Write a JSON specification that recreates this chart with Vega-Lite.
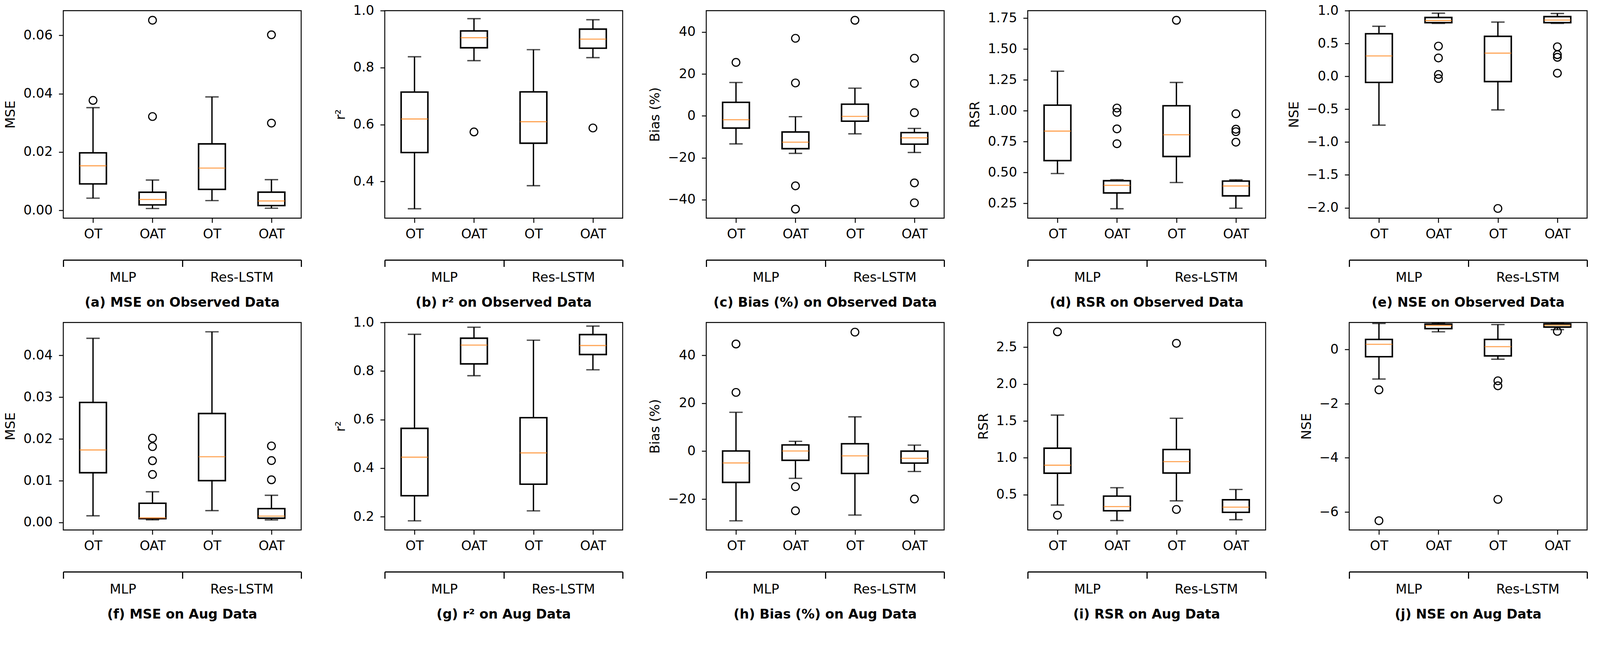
{
"$schema":"https://vega.github.io/schema/vega-lite/v6.json",
"background":"white",
"padding":{"left":9,"top":8.2,"right":5,"bottom":5},
"config":{
 "font":"DejaVu Sans",
 "view":{"stroke":"black","strokeWidth":2.4},
 "axis":{"labelFont":"DejaVu Sans","labelFontSize":33.7,"labelColor":"black","titleFont":"DejaVu Sans","titleFontSize":33.7,"titleFontWeight":"normal","titleColor":"black","tickColor":"black","tickWidth":2.4,"grid":false,"labelOverlap":false,"domainColor":"black"},
 "axisY":{"tickSize":11.6,"labelPadding":16,"titlePadding":14.5,"domain":false},
 "title":{"font":"DejaVu Sans","fontSize":33.7,"fontWeight":"bold","color":"black"}
},
"datasets":{
"stats":[
{"panel":"a","pos":1,"lo":0.00415,"q1":0.00904,"med":0.01526,"q3":0.0197,"hi":0.0352},
{"panel":"a","pos":2,"lo":0.00059,"q1":0.00183,"med":0.0037,"q3":0.00617,"hi":0.01037},
{"panel":"a","pos":3,"lo":0.00331,"q1":0.00716,"med":0.01447,"q3":0.02277,"hi":0.0389},
{"panel":"a","pos":4,"lo":0.0007,"q1":0.0016,"med":0.0032,"q3":0.0062,"hi":0.0105},
{"panel":"b","pos":1,"lo":0.3043,"q1":0.5017,"med":0.6195,"q3":0.714,"hi":0.838},
{"panel":"b","pos":2,"lo":0.8244,"q1":0.8695,"med":0.9049,"q3":0.9287,"hi":0.9717},
{"panel":"b","pos":3,"lo":0.3853,"q1":0.5345,"med":0.6099,"q3":0.7147,"hi":0.8629},
{"panel":"b","pos":4,"lo":0.835,"q1":0.868,"med":0.9,"q3":0.935,"hi":0.968},
{"panel":"c","pos":1,"lo":-13.4,"q1":-5.84,"med":-1.85,"q3":6.45,"hi":15.9},
{"panel":"c","pos":2,"lo":-17.9,"q1":-15.66,"med":-12.57,"q3":-7.69,"hi":-0.41},
{"panel":"c","pos":3,"lo":-8.58,"q1":-2.54,"med":-0.27,"q3":5.56,"hi":13.2},
{"panel":"c","pos":4,"lo":-17.5,"q1":-13.5,"med":-10.5,"q3":-8.0,"hi":-6.0},
{"panel":"d","pos":1,"lo":0.491,"q1":0.596,"med":0.835,"q3":1.045,"hi":1.32},
{"panel":"d","pos":2,"lo":0.2057,"q1":0.334,"med":0.3957,"q3":0.433,"hi":0.4411},
{"panel":"d","pos":3,"lo":0.418,"q1":0.629,"med":0.805,"q3":1.04,"hi":1.229},
{"panel":"d","pos":4,"lo":0.21,"q1":0.31,"med":0.39,"q3":0.43,"hi":0.44},
{"panel":"e","pos":1,"lo":-0.742,"q1":-0.092,"med":0.311,"q3":0.648,"hi":0.762},
{"panel":"e","pos":2,"lo":0.806,"q1":0.817,"med":0.85,"q3":0.896,"hi":0.961},
{"panel":"e","pos":3,"lo":-0.51,"q1":-0.079,"med":0.353,"q3":0.609,"hi":0.826},
{"panel":"e","pos":4,"lo":0.806,"q1":0.817,"med":0.856,"q3":0.909,"hi":0.957},
{"panel":"f","pos":1,"lo":0.00159,"q1":0.0119,"med":0.01734,"q3":0.02872,"hi":0.04407},
{"panel":"f","pos":2,"lo":0.00062,"q1":0.0009,"med":0.00107,"q3":0.00459,"hi":0.00734},
{"panel":"f","pos":3,"lo":0.00283,"q1":0.01,"med":0.01572,"q3":0.02607,"hi":0.04562},
{"panel":"f","pos":4,"lo":0.0006,"q1":0.001,"med":0.0015,"q3":0.0033,"hi":0.0065},
{"panel":"g","pos":1,"lo":0.1828,"q1":0.2862,"med":0.4449,"q3":0.5637,"hi":0.9513},
{"panel":"g","pos":2,"lo":0.7807,"q1":0.8294,"med":0.9067,"q3":0.9352,"hi":0.9804},
{"panel":"g","pos":3,"lo":0.2238,"q1":0.3337,"med":0.4627,"q3":0.6077,"hi":0.9269},
{"panel":"g","pos":4,"lo":0.805,"q1":0.868,"med":0.905,"q3":0.95,"hi":0.985},
{"panel":"h","pos":1,"lo":-29.1,"q1":-13.05,"med":-4.93,"q3":0.06,"hi":16.2},
{"panel":"h","pos":2,"lo":-11.36,"q1":-3.85,"med":0.06,"q3":2.58,"hi":4.09},
{"panel":"h","pos":3,"lo":-26.7,"q1":-9.32,"med":-1.98,"q3":3.07,"hi":14.3},
{"panel":"h","pos":4,"lo":-8.5,"q1":-5.0,"med":-3.0,"q3":0.0,"hi":2.5},
{"panel":"i","pos":1,"lo":0.359,"q1":0.791,"med":0.899,"q3":1.13,"hi":1.579},
{"panel":"i","pos":2,"lo":0.148,"q1":0.281,"med":0.338,"q3":0.48,"hi":0.594},
{"panel":"i","pos":3,"lo":0.416,"q1":0.793,"med":0.948,"q3":1.112,"hi":1.536},
{"panel":"i","pos":4,"lo":0.16,"q1":0.26,"med":0.33,"q3":0.43,"hi":0.57},
{"panel":"j","pos":1,"lo":-1.091,"q1":-0.266,"med":0.192,"q3":0.373,"hi":0.963},
{"panel":"j","pos":2,"lo":0.655,"q1":0.772,"med":0.884,"q3":0.937,"hi":0.98},
{"panel":"j","pos":3,"lo":-0.357,"q1":-0.234,"med":0.106,"q3":0.373,"hi":0.921},
{"panel":"j","pos":4,"lo":0.735,"q1":0.83,"med":0.894,"q3":0.947,"hi":0.98}
],
"out":[
{"panel":"a","pos":1,"v":0.0377},
{"panel":"a","pos":2,"v":0.0652},
{"panel":"a","pos":2,"v":0.03215},
{"panel":"a","pos":4,"v":0.0602},
{"panel":"a","pos":4,"v":0.0299},
{"panel":"b","pos":2,"v":0.574},
{"panel":"b","pos":4,"v":0.588},
{"panel":"c","pos":1,"v":25.5},
{"panel":"c","pos":2,"v":37.0},
{"panel":"c","pos":2,"v":15.7},
{"panel":"c","pos":2,"v":-33.4},
{"panel":"c","pos":2,"v":-44.5},
{"panel":"c","pos":3,"v":45.6},
{"panel":"c","pos":4,"v":27.5},
{"panel":"c","pos":4,"v":15.5},
{"panel":"c","pos":4,"v":1.5},
{"panel":"c","pos":4,"v":-32.0},
{"panel":"c","pos":4,"v":-41.5},
{"panel":"d","pos":2,"v":1.0216},
{"panel":"d","pos":2,"v":0.9866},
{"panel":"d","pos":2,"v":0.8526},
{"panel":"d","pos":2,"v":0.7325},
{"panel":"d","pos":3,"v":1.7325},
{"panel":"d","pos":4,"v":0.975},
{"panel":"d","pos":4,"v":0.85},
{"panel":"d","pos":4,"v":0.83},
{"panel":"d","pos":4,"v":0.745},
{"panel":"e","pos":2,"v":0.46},
{"panel":"e","pos":2,"v":0.28},
{"panel":"e","pos":2,"v":0.028},
{"panel":"e","pos":2,"v":-0.033},
{"panel":"e","pos":3,"v":-2.01},
{"panel":"e","pos":4,"v":0.45},
{"panel":"e","pos":4,"v":0.33},
{"panel":"e","pos":4,"v":0.29},
{"panel":"e","pos":4,"v":0.048},
{"panel":"f","pos":2,"v":0.02017},
{"panel":"f","pos":2,"v":0.01814},
{"panel":"f","pos":2,"v":0.01476},
{"panel":"f","pos":2,"v":0.01148},
{"panel":"f","pos":4,"v":0.0183},
{"panel":"f","pos":4,"v":0.0148},
{"panel":"f","pos":4,"v":0.0102},
{"panel":"h","pos":1,"v":44.7},
{"panel":"h","pos":1,"v":24.5},
{"panel":"h","pos":2,"v":-14.85},
{"panel":"h","pos":2,"v":-24.9},
{"panel":"h","pos":3,"v":49.65},
{"panel":"h","pos":4,"v":-20.0},
{"panel":"i","pos":1,"v":2.709},
{"panel":"i","pos":1,"v":0.2204},
{"panel":"i","pos":3,"v":2.553},
{"panel":"i","pos":3,"v":0.299},
{"panel":"j","pos":1,"v":-1.49},
{"panel":"j","pos":1,"v":-6.324},
{"panel":"j","pos":3,"v":-1.155},
{"panel":"j","pos":3,"v":-1.341},
{"panel":"j","pos":3,"v":-5.536},
{"panel":"j","pos":4,"v":0.671}
]
},
"columns":5,
"spacing":{"row":267,"column":214},
"bounds":"flush",
"concat":[
{"width":609,"height":531,"data":{"name":"stats"},"transform":[{"filter":"datum.panel == 'a'"}],
 "title":{"text":"(a) MSE on Observed Data","orient":"bottom","frame":"group","offset":47.7,"baseline":"middle"},
 "layer":[
  {"encoding":{"x":{"field":"pos","type":"quantitative","scale":{"domain":[0.5,4.5],"nice":false,"zero":false,"padding":0},"axis":{"orient":"bottom","values":[1,2,3,4],"labelExpr":"datum.value == 1 || datum.value == 3 ? 'OT' : 'OAT'","title":null,"domain":false,"tickSize":11.6,"labelPadding":12.6,"labelFlush":false}}},
   "layer":[
    {"mark":{"type":"rule","strokeWidth":3.4,"color":"black"},"encoding":{"y":{"field":"lo","type":"quantitative","scale":{"domain":[-0.0027,0.0685],"nice":false,"zero":false},"axis":{"title":"MSE","values":[0,0.02,0.04,0.06],"format":".2f"}},"y2":{"field":"hi"}}},
    {"mark":{"type":"tick","orient":"horizontal","size":34.3,"thickness":3.4,"color":"black"},"encoding":{"y":{"field":"lo","type":"quantitative"}}},
    {"mark":{"type":"tick","orient":"horizontal","size":34.3,"thickness":3.4,"color":"black"},"encoding":{"y":{"field":"hi","type":"quantitative"}}},
    {"mark":{"type":"bar","size":68.5,"fill":"white","stroke":"black","strokeWidth":3.9},"encoding":{"y":{"field":"q1","type":"quantitative"},"y2":{"field":"q3"}}},
    {"mark":{"type":"tick","orient":"horizontal","size":68.5,"thickness":2.9,"color":"#ff7f0e"},"encoding":{"y":{"field":"med","type":"quantitative"}}},
    {"data":{"name":"out"},"transform":[{"filter":"datum.panel == 'a'"}],"mark":{"type":"point","shape":"circle","filled":false,"size":390,"strokeWidth":2.9,"color":"black","opacity":1},"encoding":{"y":{"field":"v","type":"quantitative"}}}
   ]},
  {"mark":{"type":"rule","strokeOpacity":0},"encoding":{"x":{"field":"pos","type":"quantitative","scale":{"domain":[0.5,4.5],"nice":false,"zero":false,"padding":0},"axis":{"orient":"bottom","offset":107,"values":[0.5,1.5,2.5,3.5,4.5],"labelExpr":"datum.value == 1.5 ? 'MLP' : datum.value == 3.5 ? 'Res-LSTM' : ''","tickOpacity":{"condition":{"test":"datum.value == 1.5 || datum.value == 3.5","value":0},"value":1},"title":null,"domain":true,"domainWidth":2.9,"domainColor":"black","tickSize":17.3,"tickWidth":2.9,"labelPadding":10.7,"labelFlush":false}}}}
 ],
 "resolve":{"scale":{"x":"independent"},"axis":{"x":"independent"}}},
{"width":609,"height":531,"data":{"name":"stats"},"transform":[{"filter":"datum.panel == 'b'"}],
 "title":{"text":"(b) r² on Observed Data","orient":"bottom","frame":"group","offset":47.7,"baseline":"middle"},
 "layer":[
  {"encoding":{"x":{"field":"pos","type":"quantitative","scale":{"domain":[0.5,4.5],"nice":false,"zero":false,"padding":0},"axis":{"orient":"bottom","values":[1,2,3,4],"labelExpr":"datum.value == 1 || datum.value == 3 ? 'OT' : 'OAT'","title":null,"domain":false,"tickSize":11.6,"labelPadding":12.6,"labelFlush":false}}},
   "layer":[
    {"mark":{"type":"rule","strokeWidth":3.4,"color":"black"},"encoding":{"y":{"field":"lo","type":"quantitative","scale":{"domain":[0.2714,1.0],"nice":false,"zero":false},"axis":{"title":"r²","values":[0.4,0.6,0.8,1.0],"format":".1f"}},"y2":{"field":"hi"}}},
    {"mark":{"type":"tick","orient":"horizontal","size":34.3,"thickness":3.4,"color":"black"},"encoding":{"y":{"field":"lo","type":"quantitative"}}},
    {"mark":{"type":"tick","orient":"horizontal","size":34.3,"thickness":3.4,"color":"black"},"encoding":{"y":{"field":"hi","type":"quantitative"}}},
    {"mark":{"type":"bar","size":68.5,"fill":"white","stroke":"black","strokeWidth":3.9},"encoding":{"y":{"field":"q1","type":"quantitative"},"y2":{"field":"q3"}}},
    {"mark":{"type":"tick","orient":"horizontal","size":68.5,"thickness":2.9,"color":"#ff7f0e"},"encoding":{"y":{"field":"med","type":"quantitative"}}},
    {"data":{"name":"out"},"transform":[{"filter":"datum.panel == 'b'"}],"mark":{"type":"point","shape":"circle","filled":false,"size":390,"strokeWidth":2.9,"color":"black","opacity":1},"encoding":{"y":{"field":"v","type":"quantitative"}}}
   ]},
  {"mark":{"type":"rule","strokeOpacity":0},"encoding":{"x":{"field":"pos","type":"quantitative","scale":{"domain":[0.5,4.5],"nice":false,"zero":false,"padding":0},"axis":{"orient":"bottom","offset":107,"values":[0.5,1.5,2.5,3.5,4.5],"labelExpr":"datum.value == 1.5 ? 'MLP' : datum.value == 3.5 ? 'Res-LSTM' : ''","tickOpacity":{"condition":{"test":"datum.value == 1.5 || datum.value == 3.5","value":0},"value":1},"title":null,"domain":true,"domainWidth":2.9,"domainColor":"black","tickSize":17.3,"tickWidth":2.9,"labelPadding":10.7,"labelFlush":false}}}}
 ],
 "resolve":{"scale":{"x":"independent"},"axis":{"x":"independent"}}},
{"width":609,"height":531,"data":{"name":"stats"},"transform":[{"filter":"datum.panel == 'c'"}],
 "title":{"text":"(c) Bias (%) on Observed Data","orient":"bottom","frame":"group","offset":47.7,"baseline":"middle"},
 "layer":[
  {"encoding":{"x":{"field":"pos","type":"quantitative","scale":{"domain":[0.5,4.5],"nice":false,"zero":false,"padding":0},"axis":{"orient":"bottom","values":[1,2,3,4],"labelExpr":"datum.value == 1 || datum.value == 3 ? 'OT' : 'OAT'","title":null,"domain":false,"tickSize":11.6,"labelPadding":12.6,"labelFlush":false}}},
   "layer":[
    {"mark":{"type":"rule","strokeWidth":3.4,"color":"black"},"encoding":{"y":{"field":"lo","type":"quantitative","scale":{"domain":[-48.8,50.2],"nice":false,"zero":false},"axis":{"title":"Bias (%)","values":[-40,-20,0,20,40],"format":"d"}},"y2":{"field":"hi"}}},
    {"mark":{"type":"tick","orient":"horizontal","size":34.3,"thickness":3.4,"color":"black"},"encoding":{"y":{"field":"lo","type":"quantitative"}}},
    {"mark":{"type":"tick","orient":"horizontal","size":34.3,"thickness":3.4,"color":"black"},"encoding":{"y":{"field":"hi","type":"quantitative"}}},
    {"mark":{"type":"bar","size":68.5,"fill":"white","stroke":"black","strokeWidth":3.9},"encoding":{"y":{"field":"q1","type":"quantitative"},"y2":{"field":"q3"}}},
    {"mark":{"type":"tick","orient":"horizontal","size":68.5,"thickness":2.9,"color":"#ff7f0e"},"encoding":{"y":{"field":"med","type":"quantitative"}}},
    {"data":{"name":"out"},"transform":[{"filter":"datum.panel == 'c'"}],"mark":{"type":"point","shape":"circle","filled":false,"size":390,"strokeWidth":2.9,"color":"black","opacity":1},"encoding":{"y":{"field":"v","type":"quantitative"}}}
   ]},
  {"mark":{"type":"rule","strokeOpacity":0},"encoding":{"x":{"field":"pos","type":"quantitative","scale":{"domain":[0.5,4.5],"nice":false,"zero":false,"padding":0},"axis":{"orient":"bottom","offset":107,"values":[0.5,1.5,2.5,3.5,4.5],"labelExpr":"datum.value == 1.5 ? 'MLP' : datum.value == 3.5 ? 'Res-LSTM' : ''","tickOpacity":{"condition":{"test":"datum.value == 1.5 || datum.value == 3.5","value":0},"value":1},"title":null,"domain":true,"domainWidth":2.9,"domainColor":"black","tickSize":17.3,"tickWidth":2.9,"labelPadding":10.7,"labelFlush":false}}}}
 ],
 "resolve":{"scale":{"x":"independent"},"axis":{"x":"independent"}}},
{"width":609,"height":531,"data":{"name":"stats"},"transform":[{"filter":"datum.panel == 'd'"}],
 "title":{"text":"(d) RSR on Observed Data","orient":"bottom","frame":"group","offset":47.7,"baseline":"middle"},
 "layer":[
  {"encoding":{"x":{"field":"pos","type":"quantitative","scale":{"domain":[0.5,4.5],"nice":false,"zero":false,"padding":0},"axis":{"orient":"bottom","values":[1,2,3,4],"labelExpr":"datum.value == 1 || datum.value == 3 ? 'OT' : 'OAT'","title":null,"domain":false,"tickSize":11.6,"labelPadding":12.6,"labelFlush":false}}},
   "layer":[
    {"mark":{"type":"rule","strokeWidth":3.4,"color":"black"},"encoding":{"y":{"field":"lo","type":"quantitative","scale":{"domain":[0.1299,1.8106],"nice":false,"zero":false},"axis":{"title":"RSR","values":[0.25,0.5,0.75,1.0,1.25,1.5,1.75],"format":".2f"}},"y2":{"field":"hi"}}},
    {"mark":{"type":"tick","orient":"horizontal","size":34.3,"thickness":3.4,"color":"black"},"encoding":{"y":{"field":"lo","type":"quantitative"}}},
    {"mark":{"type":"tick","orient":"horizontal","size":34.3,"thickness":3.4,"color":"black"},"encoding":{"y":{"field":"hi","type":"quantitative"}}},
    {"mark":{"type":"bar","size":68.5,"fill":"white","stroke":"black","strokeWidth":3.9},"encoding":{"y":{"field":"q1","type":"quantitative"},"y2":{"field":"q3"}}},
    {"mark":{"type":"tick","orient":"horizontal","size":68.5,"thickness":2.9,"color":"#ff7f0e"},"encoding":{"y":{"field":"med","type":"quantitative"}}},
    {"data":{"name":"out"},"transform":[{"filter":"datum.panel == 'd'"}],"mark":{"type":"point","shape":"circle","filled":false,"size":390,"strokeWidth":2.9,"color":"black","opacity":1},"encoding":{"y":{"field":"v","type":"quantitative"}}}
   ]},
  {"mark":{"type":"rule","strokeOpacity":0},"encoding":{"x":{"field":"pos","type":"quantitative","scale":{"domain":[0.5,4.5],"nice":false,"zero":false,"padding":0},"axis":{"orient":"bottom","offset":107,"values":[0.5,1.5,2.5,3.5,4.5],"labelExpr":"datum.value == 1.5 ? 'MLP' : datum.value == 3.5 ? 'Res-LSTM' : ''","tickOpacity":{"condition":{"test":"datum.value == 1.5 || datum.value == 3.5","value":0},"value":1},"title":null,"domain":true,"domainWidth":2.9,"domainColor":"black","tickSize":17.3,"tickWidth":2.9,"labelPadding":10.7,"labelFlush":false}}}}
 ],
 "resolve":{"scale":{"x":"independent"},"axis":{"x":"independent"}}},
{"width":609,"height":531,"data":{"name":"stats"},"transform":[{"filter":"datum.panel == 'e'"}],
 "title":{"text":"(e) NSE on Observed Data","orient":"bottom","frame":"group","offset":47.7,"baseline":"middle"},
 "layer":[
  {"encoding":{"x":{"field":"pos","type":"quantitative","scale":{"domain":[0.5,4.5],"nice":false,"zero":false,"padding":0},"axis":{"orient":"bottom","values":[1,2,3,4],"labelExpr":"datum.value == 1 || datum.value == 3 ? 'OT' : 'OAT'","title":null,"domain":false,"tickSize":11.6,"labelPadding":12.6,"labelFlush":false}}},
   "layer":[
    {"mark":{"type":"rule","strokeWidth":3.4,"color":"black"},"encoding":{"y":{"field":"lo","type":"quantitative","scale":{"domain":[-2.157,1.0],"nice":false,"zero":false},"axis":{"title":"NSE","values":[-2,-1.5,-1,-0.5,0,0.5,1],"format":".1f"}},"y2":{"field":"hi"}}},
    {"mark":{"type":"tick","orient":"horizontal","size":34.3,"thickness":3.4,"color":"black"},"encoding":{"y":{"field":"lo","type":"quantitative"}}},
    {"mark":{"type":"tick","orient":"horizontal","size":34.3,"thickness":3.4,"color":"black"},"encoding":{"y":{"field":"hi","type":"quantitative"}}},
    {"mark":{"type":"bar","size":68.5,"fill":"white","stroke":"black","strokeWidth":3.9},"encoding":{"y":{"field":"q1","type":"quantitative"},"y2":{"field":"q3"}}},
    {"mark":{"type":"tick","orient":"horizontal","size":68.5,"thickness":2.9,"color":"#ff7f0e"},"encoding":{"y":{"field":"med","type":"quantitative"}}},
    {"data":{"name":"out"},"transform":[{"filter":"datum.panel == 'e'"}],"mark":{"type":"point","shape":"circle","filled":false,"size":390,"strokeWidth":2.9,"color":"black","opacity":1},"encoding":{"y":{"field":"v","type":"quantitative"}}}
   ]},
  {"mark":{"type":"rule","strokeOpacity":0},"encoding":{"x":{"field":"pos","type":"quantitative","scale":{"domain":[0.5,4.5],"nice":false,"zero":false,"padding":0},"axis":{"orient":"bottom","offset":107,"values":[0.5,1.5,2.5,3.5,4.5],"labelExpr":"datum.value == 1.5 ? 'MLP' : datum.value == 3.5 ? 'Res-LSTM' : ''","tickOpacity":{"condition":{"test":"datum.value == 1.5 || datum.value == 3.5","value":0},"value":1},"title":null,"domain":true,"domainWidth":2.9,"domainColor":"black","tickSize":17.3,"tickWidth":2.9,"labelPadding":10.7,"labelFlush":false}}}}
 ],
 "resolve":{"scale":{"x":"independent"},"axis":{"x":"independent"}}},
{"width":609,"height":531,"data":{"name":"stats"},"transform":[{"filter":"datum.panel == 'f'"}],
 "title":{"text":"(f) MSE on Aug Data","orient":"bottom","frame":"group","offset":47.7,"baseline":"middle"},
 "layer":[
  {"encoding":{"x":{"field":"pos","type":"quantitative","scale":{"domain":[0.5,4.5],"nice":false,"zero":false,"padding":0},"axis":{"orient":"bottom","values":[1,2,3,4],"labelExpr":"datum.value == 1 || datum.value == 3 ? 'OT' : 'OAT'","title":null,"domain":false,"tickSize":11.6,"labelPadding":12.6,"labelFlush":false}}},
   "layer":[
    {"mark":{"type":"rule","strokeWidth":3.4,"color":"black"},"encoding":{"y":{"field":"lo","type":"quantitative","scale":{"domain":[-0.0018,0.04786],"nice":false,"zero":false},"axis":{"title":"MSE","values":[0,0.01,0.02,0.03,0.04],"format":".2f"}},"y2":{"field":"hi"}}},
    {"mark":{"type":"tick","orient":"horizontal","size":34.3,"thickness":3.4,"color":"black"},"encoding":{"y":{"field":"lo","type":"quantitative"}}},
    {"mark":{"type":"tick","orient":"horizontal","size":34.3,"thickness":3.4,"color":"black"},"encoding":{"y":{"field":"hi","type":"quantitative"}}},
    {"mark":{"type":"bar","size":68.5,"fill":"white","stroke":"black","strokeWidth":3.9},"encoding":{"y":{"field":"q1","type":"quantitative"},"y2":{"field":"q3"}}},
    {"mark":{"type":"tick","orient":"horizontal","size":68.5,"thickness":2.9,"color":"#ff7f0e"},"encoding":{"y":{"field":"med","type":"quantitative"}}},
    {"data":{"name":"out"},"transform":[{"filter":"datum.panel == 'f'"}],"mark":{"type":"point","shape":"circle","filled":false,"size":390,"strokeWidth":2.9,"color":"black","opacity":1},"encoding":{"y":{"field":"v","type":"quantitative"}}}
   ]},
  {"mark":{"type":"rule","strokeOpacity":0},"encoding":{"x":{"field":"pos","type":"quantitative","scale":{"domain":[0.5,4.5],"nice":false,"zero":false,"padding":0},"axis":{"orient":"bottom","offset":107,"values":[0.5,1.5,2.5,3.5,4.5],"labelExpr":"datum.value == 1.5 ? 'MLP' : datum.value == 3.5 ? 'Res-LSTM' : ''","tickOpacity":{"condition":{"test":"datum.value == 1.5 || datum.value == 3.5","value":0},"value":1},"title":null,"domain":true,"domainWidth":2.9,"domainColor":"black","tickSize":17.3,"tickWidth":2.9,"labelPadding":10.7,"labelFlush":false}}}}
 ],
 "resolve":{"scale":{"x":"independent"},"axis":{"x":"independent"}}},
{"width":609,"height":531,"data":{"name":"stats"},"transform":[{"filter":"datum.panel == 'g'"}],
 "title":{"text":"(g) r² on Aug Data","orient":"bottom","frame":"group","offset":47.7,"baseline":"middle"},
 "layer":[
  {"encoding":{"x":{"field":"pos","type":"quantitative","scale":{"domain":[0.5,4.5],"nice":false,"zero":false,"padding":0},"axis":{"orient":"bottom","values":[1,2,3,4],"labelExpr":"datum.value == 1 || datum.value == 3 ? 'OT' : 'OAT'","title":null,"domain":false,"tickSize":11.6,"labelPadding":12.6,"labelFlush":false}}},
   "layer":[
    {"mark":{"type":"rule","strokeWidth":3.4,"color":"black"},"encoding":{"y":{"field":"lo","type":"quantitative","scale":{"domain":[0.1453,1.0],"nice":false,"zero":false},"axis":{"title":"r²","values":[0.2,0.4,0.6,0.8,1.0],"format":".1f"}},"y2":{"field":"hi"}}},
    {"mark":{"type":"tick","orient":"horizontal","size":34.3,"thickness":3.4,"color":"black"},"encoding":{"y":{"field":"lo","type":"quantitative"}}},
    {"mark":{"type":"tick","orient":"horizontal","size":34.3,"thickness":3.4,"color":"black"},"encoding":{"y":{"field":"hi","type":"quantitative"}}},
    {"mark":{"type":"bar","size":68.5,"fill":"white","stroke":"black","strokeWidth":3.9},"encoding":{"y":{"field":"q1","type":"quantitative"},"y2":{"field":"q3"}}},
    {"mark":{"type":"tick","orient":"horizontal","size":68.5,"thickness":2.9,"color":"#ff7f0e"},"encoding":{"y":{"field":"med","type":"quantitative"}}},
    {"data":{"name":"out"},"transform":[{"filter":"datum.panel == 'g'"}],"mark":{"type":"point","shape":"circle","filled":false,"size":390,"strokeWidth":2.9,"color":"black","opacity":1},"encoding":{"y":{"field":"v","type":"quantitative"}}}
   ]},
  {"mark":{"type":"rule","strokeOpacity":0},"encoding":{"x":{"field":"pos","type":"quantitative","scale":{"domain":[0.5,4.5],"nice":false,"zero":false,"padding":0},"axis":{"orient":"bottom","offset":107,"values":[0.5,1.5,2.5,3.5,4.5],"labelExpr":"datum.value == 1.5 ? 'MLP' : datum.value == 3.5 ? 'Res-LSTM' : ''","tickOpacity":{"condition":{"test":"datum.value == 1.5 || datum.value == 3.5","value":0},"value":1},"title":null,"domain":true,"domainWidth":2.9,"domainColor":"black","tickSize":17.3,"tickWidth":2.9,"labelPadding":10.7,"labelFlush":false}}}}
 ],
 "resolve":{"scale":{"x":"independent"},"axis":{"x":"independent"}}},
{"width":609,"height":531,"data":{"name":"stats"},"transform":[{"filter":"datum.panel == 'h'"}],
 "title":{"text":"(h) Bias (%) on Aug Data","orient":"bottom","frame":"group","offset":47.7,"baseline":"middle"},
 "layer":[
  {"encoding":{"x":{"field":"pos","type":"quantitative","scale":{"domain":[0.5,4.5],"nice":false,"zero":false,"padding":0},"axis":{"orient":"bottom","values":[1,2,3,4],"labelExpr":"datum.value == 1 || datum.value == 3 ? 'OT' : 'OAT'","title":null,"domain":false,"tickSize":11.6,"labelPadding":12.6,"labelFlush":false}}},
   "layer":[
    {"mark":{"type":"rule","strokeWidth":3.4,"color":"black"},"encoding":{"y":{"field":"lo","type":"quantitative","scale":{"domain":[-32.9,53.7],"nice":false,"zero":false},"axis":{"title":"Bias (%)","values":[-20,0,20,40],"format":"d"}},"y2":{"field":"hi"}}},
    {"mark":{"type":"tick","orient":"horizontal","size":34.3,"thickness":3.4,"color":"black"},"encoding":{"y":{"field":"lo","type":"quantitative"}}},
    {"mark":{"type":"tick","orient":"horizontal","size":34.3,"thickness":3.4,"color":"black"},"encoding":{"y":{"field":"hi","type":"quantitative"}}},
    {"mark":{"type":"bar","size":68.5,"fill":"white","stroke":"black","strokeWidth":3.9},"encoding":{"y":{"field":"q1","type":"quantitative"},"y2":{"field":"q3"}}},
    {"mark":{"type":"tick","orient":"horizontal","size":68.5,"thickness":2.9,"color":"#ff7f0e"},"encoding":{"y":{"field":"med","type":"quantitative"}}},
    {"data":{"name":"out"},"transform":[{"filter":"datum.panel == 'h'"}],"mark":{"type":"point","shape":"circle","filled":false,"size":390,"strokeWidth":2.9,"color":"black","opacity":1},"encoding":{"y":{"field":"v","type":"quantitative"}}}
   ]},
  {"mark":{"type":"rule","strokeOpacity":0},"encoding":{"x":{"field":"pos","type":"quantitative","scale":{"domain":[0.5,4.5],"nice":false,"zero":false,"padding":0},"axis":{"orient":"bottom","offset":107,"values":[0.5,1.5,2.5,3.5,4.5],"labelExpr":"datum.value == 1.5 ? 'MLP' : datum.value == 3.5 ? 'Res-LSTM' : ''","tickOpacity":{"condition":{"test":"datum.value == 1.5 || datum.value == 3.5","value":0},"value":1},"title":null,"domain":true,"domainWidth":2.9,"domainColor":"black","tickSize":17.3,"tickWidth":2.9,"labelPadding":10.7,"labelFlush":false}}}}
 ],
 "resolve":{"scale":{"x":"independent"},"axis":{"x":"independent"}}},
{"width":609,"height":531,"data":{"name":"stats"},"transform":[{"filter":"datum.panel == 'i'"}],
 "title":{"text":"(i) RSR on Aug Data","orient":"bottom","frame":"group","offset":47.7,"baseline":"middle"},
 "layer":[
  {"encoding":{"x":{"field":"pos","type":"quantitative","scale":{"domain":[0.5,4.5],"nice":false,"zero":false,"padding":0},"axis":{"orient":"bottom","values":[1,2,3,4],"labelExpr":"datum.value == 1 || datum.value == 3 ? 'OT' : 'OAT'","title":null,"domain":false,"tickSize":11.6,"labelPadding":12.6,"labelFlush":false}}},
   "layer":[
    {"mark":{"type":"rule","strokeWidth":3.4,"color":"black"},"encoding":{"y":{"field":"lo","type":"quantitative","scale":{"domain":[0.021,2.836],"nice":false,"zero":false},"axis":{"title":"RSR","values":[0.5,1.0,1.5,2.0,2.5],"format":".1f"}},"y2":{"field":"hi"}}},
    {"mark":{"type":"tick","orient":"horizontal","size":34.3,"thickness":3.4,"color":"black"},"encoding":{"y":{"field":"lo","type":"quantitative"}}},
    {"mark":{"type":"tick","orient":"horizontal","size":34.3,"thickness":3.4,"color":"black"},"encoding":{"y":{"field":"hi","type":"quantitative"}}},
    {"mark":{"type":"bar","size":68.5,"fill":"white","stroke":"black","strokeWidth":3.9},"encoding":{"y":{"field":"q1","type":"quantitative"},"y2":{"field":"q3"}}},
    {"mark":{"type":"tick","orient":"horizontal","size":68.5,"thickness":2.9,"color":"#ff7f0e"},"encoding":{"y":{"field":"med","type":"quantitative"}}},
    {"data":{"name":"out"},"transform":[{"filter":"datum.panel == 'i'"}],"mark":{"type":"point","shape":"circle","filled":false,"size":390,"strokeWidth":2.9,"color":"black","opacity":1},"encoding":{"y":{"field":"v","type":"quantitative"}}}
   ]},
  {"mark":{"type":"rule","strokeOpacity":0},"encoding":{"x":{"field":"pos","type":"quantitative","scale":{"domain":[0.5,4.5],"nice":false,"zero":false,"padding":0},"axis":{"orient":"bottom","offset":107,"values":[0.5,1.5,2.5,3.5,4.5],"labelExpr":"datum.value == 1.5 ? 'MLP' : datum.value == 3.5 ? 'Res-LSTM' : ''","tickOpacity":{"condition":{"test":"datum.value == 1.5 || datum.value == 3.5","value":0},"value":1},"title":null,"domain":true,"domainWidth":2.9,"domainColor":"black","tickSize":17.3,"tickWidth":2.9,"labelPadding":10.7,"labelFlush":false}}}}
 ],
 "resolve":{"scale":{"x":"independent"},"axis":{"x":"independent"}}},
{"width":609,"height":531,"data":{"name":"stats"},"transform":[{"filter":"datum.panel == 'j'"}],
 "title":{"text":"(j) NSE on Aug Data","orient":"bottom","frame":"group","offset":47.7,"baseline":"middle"},
 "layer":[
  {"encoding":{"x":{"field":"pos","type":"quantitative","scale":{"domain":[0.5,4.5],"nice":false,"zero":false,"padding":0},"axis":{"orient":"bottom","values":[1,2,3,4],"labelExpr":"datum.value == 1 || datum.value == 3 ? 'OT' : 'OAT'","title":null,"domain":false,"tickSize":11.6,"labelPadding":12.6,"labelFlush":false}}},
   "layer":[
    {"mark":{"type":"rule","strokeWidth":3.4,"color":"black"},"encoding":{"y":{"field":"lo","type":"quantitative","scale":{"domain":[-6.665,1.0],"nice":false,"zero":false},"axis":{"title":"NSE","values":[-6,-4,-2,0],"format":"d"}},"y2":{"field":"hi"}}},
    {"mark":{"type":"tick","orient":"horizontal","size":34.3,"thickness":3.4,"color":"black"},"encoding":{"y":{"field":"lo","type":"quantitative"}}},
    {"mark":{"type":"tick","orient":"horizontal","size":34.3,"thickness":3.4,"color":"black"},"encoding":{"y":{"field":"hi","type":"quantitative"}}},
    {"mark":{"type":"bar","size":68.5,"fill":"white","stroke":"black","strokeWidth":3.9},"encoding":{"y":{"field":"q1","type":"quantitative"},"y2":{"field":"q3"}}},
    {"mark":{"type":"tick","orient":"horizontal","size":68.5,"thickness":2.9,"color":"#ff7f0e"},"encoding":{"y":{"field":"med","type":"quantitative"}}},
    {"data":{"name":"out"},"transform":[{"filter":"datum.panel == 'j'"}],"mark":{"type":"point","shape":"circle","filled":false,"size":390,"strokeWidth":2.9,"color":"black","opacity":1},"encoding":{"y":{"field":"v","type":"quantitative"}}}
   ]},
  {"mark":{"type":"rule","strokeOpacity":0},"encoding":{"x":{"field":"pos","type":"quantitative","scale":{"domain":[0.5,4.5],"nice":false,"zero":false,"padding":0},"axis":{"orient":"bottom","offset":107,"values":[0.5,1.5,2.5,3.5,4.5],"labelExpr":"datum.value == 1.5 ? 'MLP' : datum.value == 3.5 ? 'Res-LSTM' : ''","tickOpacity":{"condition":{"test":"datum.value == 1.5 || datum.value == 3.5","value":0},"value":1},"title":null,"domain":true,"domainWidth":2.9,"domainColor":"black","tickSize":17.3,"tickWidth":2.9,"labelPadding":10.7,"labelFlush":false}}}}
 ],
 "resolve":{"scale":{"x":"independent"},"axis":{"x":"independent"}}}
]
}
